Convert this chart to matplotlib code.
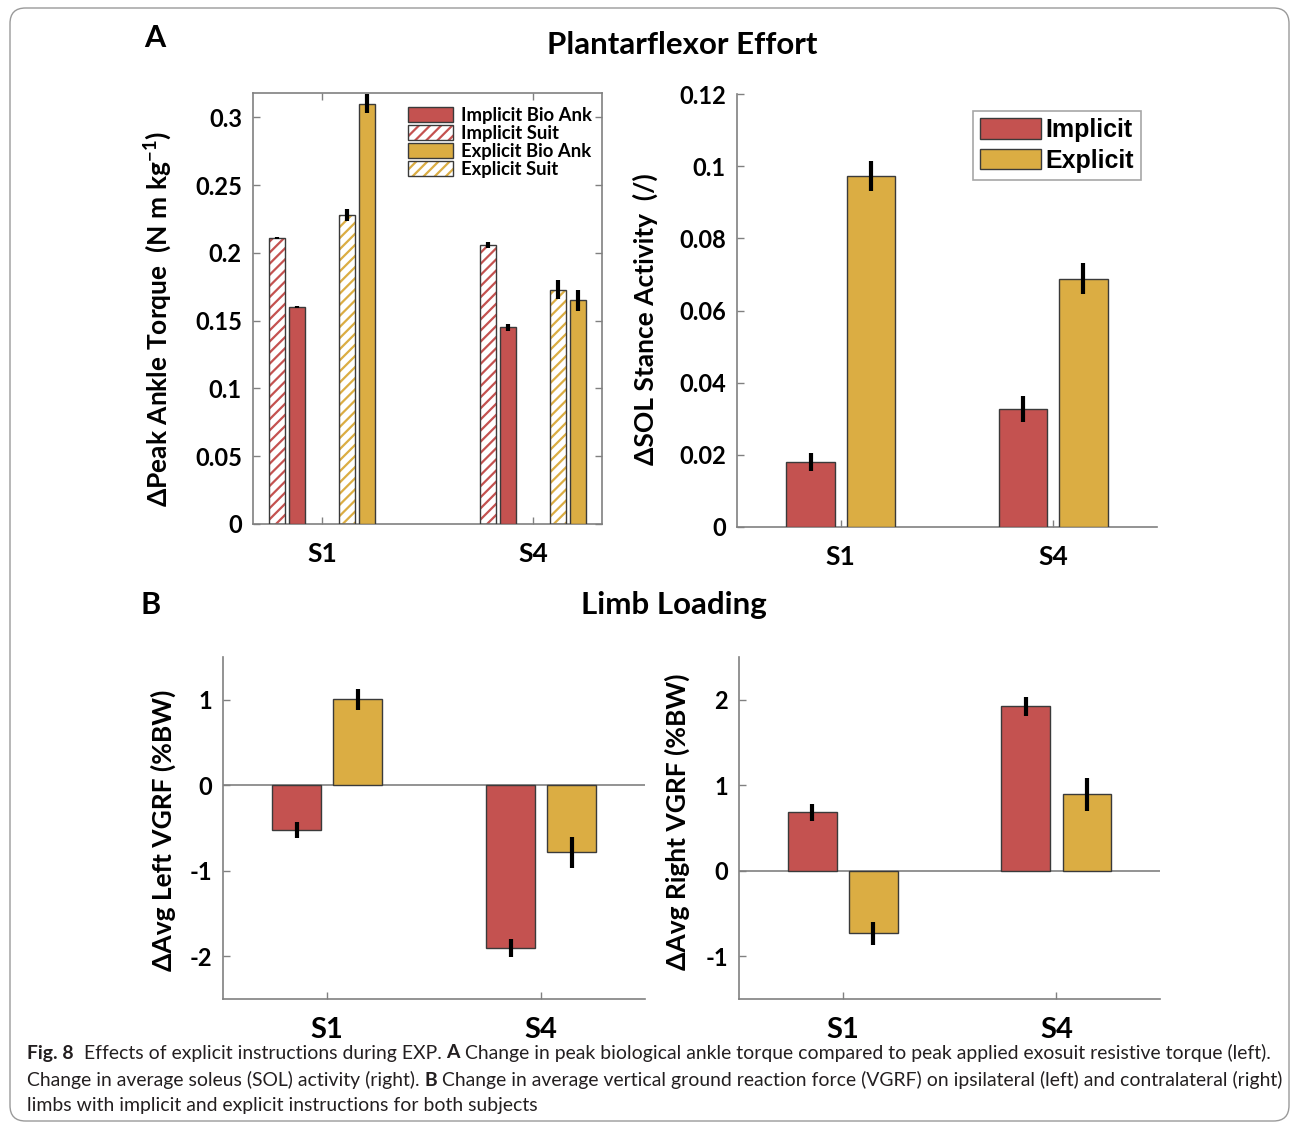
import numpy as np
import matplotlib
matplotlib.use('Agg')
import matplotlib.pyplot as plt
from matplotlib.patches import Patch, FancyBboxPatch

# Data
subjects = ['S1', 'S4']

torque_impl_bio = [0.160, 0.145]
torque_impl_bio_err = [0.0008, 0.0025]
torque_impl_suit = [0.211, 0.206]
torque_impl_suit_err = [0.0008, 0.0023]
torque_expl_bio = [0.310, 0.165]
torque_expl_bio_err = [0.0070, 0.0080]
torque_expl_suit = [0.228, 0.173]
torque_expl_suit_err = [0.0042, 0.0072]

sol_impl = [0.0181, 0.0327]
sol_impl_err = [0.0025, 0.0037]
sol_expl = [0.0973, 0.0688]
sol_expl_err = [0.0042, 0.0043]

left_impl = [-0.526, -1.904]
left_impl_err = [0.093, 0.110]
left_expl = [1.005, -0.783]
left_expl_err = [0.120, 0.180]

right_impl = [0.683, 1.922]
right_impl_err = [0.098, 0.113]
right_expl = [-0.731, 0.894]
right_expl_err = [0.133, 0.195]

RED = '#C45250'
GOLD = '#DBAD43'
EDGE = '#3a3a3a'
SPINE = '#808080'
FONT = 'Lato'

plt.rcParams['font.family'] = [FONT, 'DejaVu Sans']
plt.rcParams['hatch.linewidth'] = 1.6
plt.rcParams['axes.unicode_minus'] = False
plt.rcParams['mathtext.fontset'] = 'custom'
plt.rcParams['mathtext.rm'] = 'Lato'
plt.rcParams['mathtext.bf'] = 'Lato:bold'

W, H = 1293, 1124
fig = plt.figure(figsize=(W / 100, H / 100), dpi=100)


def px_axes(x0, y0, x1, y1):
    return fig.add_axes([x0 / W, 1 - y1 / H, (x1 - x0) / W, (y1 - y0) / H])


def style_axes(ax, box=False, xsize=19):
    for s in ['left', 'bottom', 'top', 'right']:
        ax.spines[s].set_color(SPINE)
        ax.spines[s].set_linewidth(1.2)
    if not box:
        ax.spines['top'].set_visible(False)
        ax.spines['right'].set_visible(False)
    ax.tick_params(direction='in', length=5, width=1, color=SPINE,
                   top=box, right=box, labelsize=17, pad=8)
    ax.tick_params(axis='x', labelsize=xsize, pad=13)
    for lab in ax.get_xticklabels() + ax.get_yticklabels():
        lab.set_fontweight('bold')


def hatched_bar(ax, x, h, w, color):
    with plt.rc_context({'hatch.color': color}):
        ax.bar(x, h, w, color='white', hatch='///', linewidth=0, zorder=2)
    ax.bar(x, h, w, fill=False, edgecolor=EDGE, linewidth=1, zorder=3)


def err(ax, x, y, e):
    ax.errorbar(x, y, yerr=e, fmt='none', ecolor='black', elinewidth=3,
                capsize=0, zorder=4)


xs = np.arange(1, len(subjects) + 1)

# ---- A left: peak ankle torque
ax1 = px_axes(253, 93, 602, 524)
bw = 0.076
off = [-0.213, -0.118, 0.118, 0.215]
hatched_bar(ax1, xs + off[0], torque_impl_suit, bw, RED)
ax1.bar(xs + off[1], torque_impl_bio, bw, color=RED, edgecolor=EDGE, linewidth=1, zorder=3)
hatched_bar(ax1, xs + off[2], torque_expl_suit, bw, GOLD)
ax1.bar(xs + off[3], torque_expl_bio, bw, color=GOLD, edgecolor=EDGE, linewidth=1, zorder=3)
err(ax1, xs + off[0], torque_impl_suit, torque_impl_suit_err)
err(ax1, xs + off[1], torque_impl_bio, torque_impl_bio_err)
err(ax1, xs + off[2], torque_expl_suit, torque_expl_suit_err)
err(ax1, xs + off[3], torque_expl_bio, torque_expl_bio_err)
ax1.set_xlim(0.673, 2.327)
ax1.set_ylim(0, 0.318)
ax1.set_yticks([0, 0.05, 0.1, 0.15, 0.2, 0.25, 0.3])
ax1.set_yticklabels(['0', '0.05', '0.1', '0.15', '0.2', '0.25', '0.3'])
ax1.set_xticks(xs)
ax1.set_xticklabels(subjects)
style_axes(ax1, box=True)


def hatch_handle(color):
    with plt.rc_context({'hatch.color': color}):
        p = Patch(facecolor='white', hatch='///', linewidth=0)
    q = Patch(fill=False, edgecolor=EDGE, linewidth=1)
    return (p, q)


handles = [Patch(facecolor=RED, edgecolor=EDGE, linewidth=1), hatch_handle(RED),
           Patch(facecolor=GOLD, edgecolor=EDGE, linewidth=1), hatch_handle(GOLD)]
labels = ['Implicit Bio Ank', 'Implicit Suit', 'Explicit Bio Ank', 'Explicit Suit']
ax1.legend(handles, labels, loc='upper left', bbox_to_anchor=(0.445, 0.968),
           frameon=False, borderpad=0, borderaxespad=0, handlelength=2.4,
           handleheight=0.85, labelspacing=0.05, handletextpad=0.45,
           prop={'family': FONT, 'weight': 'bold', 'size': 13.3})

# ---- A right: SOL stance activity
ax2 = px_axes(737, 94, 1157, 527)
bw2 = 0.229
ax2.bar(xs - 0.142, sol_impl, bw2, color=RED, edgecolor=EDGE, linewidth=1, zorder=3)
ax2.bar(xs + 0.142, sol_expl, bw2, color=GOLD, edgecolor=EDGE, linewidth=1, zorder=3)
err(ax2, xs - 0.142, sol_impl, sol_impl_err)
err(ax2, xs + 0.142, sol_expl, sol_expl_err)
ax2.set_xlim(0.512, 2.488)
ax2.set_ylim(0, 0.12)
ax2.set_yticks([0, 0.02, 0.04, 0.06, 0.08, 0.1, 0.12])
ax2.set_yticklabels(['0', '0.02', '0.04', '0.06', '0.08', '0.1', '0.12'])
ax2.set_xticks(xs)
ax2.set_xticklabels(subjects)
style_axes(ax2)
leg2 = ax2.legend([Patch(facecolor=RED, edgecolor=EDGE, linewidth=1),
                   Patch(facecolor=GOLD, edgecolor=EDGE, linewidth=1)],
                  ['Implicit', 'Explicit'], loc='upper right',
                  bbox_to_anchor=(0.962, 0.961), borderaxespad=0, fancybox=False,
                  borderpad=0.3, handlelength=2.45, handleheight=0.9,
                  labelspacing=0.25, handletextpad=0.15,
                  prop={'family': 'Liberation Sans', 'weight': 'bold', 'size': 18})
leg2.get_frame().set_edgecolor('#909090')
leg2.get_frame().set_linewidth(1.2)

# ---- B left: left VGRF
ax3 = px_axes(223, 657, 645, 999)
ax3.axhline(0, color=SPINE, linewidth=1.2, zorder=1)
ax3.bar(xs - 0.143, left_impl, bw2, color=RED, edgecolor=EDGE, linewidth=1, zorder=3)
ax3.bar(xs + 0.143, left_expl, bw2, color=GOLD, edgecolor=EDGE, linewidth=1, zorder=3)
err(ax3, xs - 0.143, left_impl, left_impl_err)
err(ax3, xs + 0.143, left_expl, left_expl_err)
ax3.set_xlim(0.513, 2.485)
ax3.set_ylim(-2.5, 1.5)
ax3.set_yticks([-2, -1, 0, 1])
ax3.set_xticks(xs)
ax3.set_xticklabels(subjects)
style_axes(ax3, xsize=21)

# ---- B right: right VGRF
ax4 = px_axes(739, 657, 1160, 999)
ax4.axhline(0, color=SPINE, linewidth=1.2, zorder=1)
ax4.bar(xs - 0.143, right_impl, bw2, color=RED, edgecolor=EDGE, linewidth=1, zorder=3)
ax4.bar(xs + 0.143, right_expl, bw2, color=GOLD, edgecolor=EDGE, linewidth=1, zorder=3)
err(ax4, xs - 0.143, right_impl, right_impl_err)
err(ax4, xs + 0.143, right_expl, right_expl_err)
ax4.set_xlim(0.513, 2.485)
ax4.set_ylim(-1.5, 2.5)
ax4.set_yticks([-1, 0, 1, 2])
ax4.set_xticks(xs)
ax4.set_xticklabels(subjects)
style_axes(ax4, xsize=21)

# ---- labels and titles
ylab = dict(rotation=90, ha='center', va='center', fontsize=19, fontweight='bold')
fig.text(158 / W, 1 - 319 / H, r'ΔPeak Ankle Torque  (N m kg$^{\mathbf{-1}}$)', **ylab)
fig.text(645 / W, 1 - 319 / H, 'ΔSOL Stance Activity  (/)', **ylab)
fig.text(163 / W, 1 - 830 / H, 'ΔAvg Left VGRF (%BW)', **ylab)
fig.text(677 / W, 1 - 822 / H, 'ΔAvg Right VGRF (%BW)', **ylab)

fig.text(155 / W, 1 - 38 / H, 'A', fontsize=22, fontweight='bold', ha='center', va='center')
fig.text(682 / W, 1 - 45 / H, 'Plantarflexor Effort', fontsize=22.5, fontweight='bold',
         ha='center', va='center')
fig.text(151 / W, 1 - 605 / H, 'B', fontsize=22, fontweight='bold', ha='center', va='center')
fig.text(674 / W, 1 - 605 / H, 'Limb Loading', fontsize=22.5, fontweight='bold',
         ha='center', va='center')

# ---- caption
cap_lines = [
    [('Fig. 8', True), ('  Effects of explicit instructions during EXP. ', False), ('A', True),
     (' Change in peak biological ankle torque compared to peak applied exosuit resistive torque (left).', False)],
    [('Change in average soleus (SOL) activity (right). ', False), ('B', True),
     (' Change in average vertical ground reaction force (VGRF) on ipsilateral (left) and contralateral (right)', False)],
    [('limbs with implicit and explicit instructions for both subjects', False)],
]
cap_y = [1053, 1080, 1106]
renderer = fig.canvas.get_renderer()

# fit the widest caption line to the width it has in the reference
probe = 0
for txt, bold in cap_lines[0]:
    t = fig.text(0, 0, txt, fontsize=13, fontweight='bold' if bold else 'normal')
    probe += t.get_window_extent(renderer=renderer).width
    t.remove()
cap_size = 13 * (1265 - 27) / probe

for line, y in zip(cap_lines, cap_y):
    x = 27
    for txt, bold in line:
        t = fig.text(x / W, 1 - y / H, txt, fontsize=cap_size,
                     fontweight='bold' if bold else 'normal', ha='left', va='center',
                     color='#231f20')
        x += t.get_window_extent(renderer=renderer).width

# ---- rounded frame around the figure
frame = FancyBboxPatch((10 / W, 1 - 1121 / H), 1279 / W, 1113 / H,
                       boxstyle='round,pad=0,rounding_size=0.012',
                       transform=fig.transFigure, fill=False, edgecolor='#9a9a9a',
                       linewidth=1, mutation_aspect=W / H)
fig.patches.append(frame)

fig.savefig('out.png', dpi=100)
